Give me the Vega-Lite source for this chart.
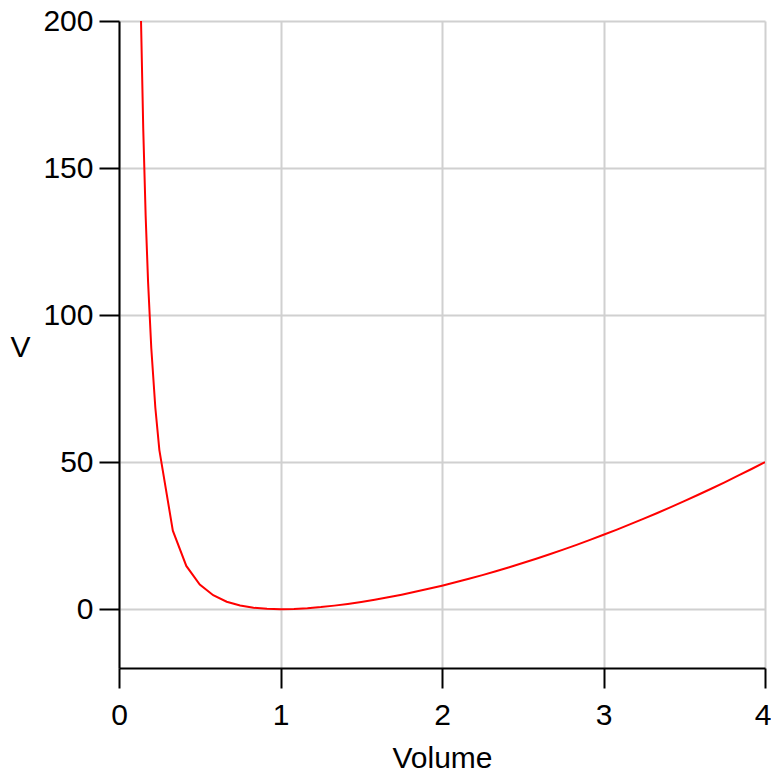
{
  "$schema": "https://vega.github.io/schema/vega-lite/v6.json",
  "width": 646,
  "height": 647,
  "autosize": "none",
  "padding": {"left": 119, "top": 21, "right": 6, "bottom": 108},
  "background": "white",
  "config": {"view": {"stroke": null}, "font": "Liberation Sans"},
  "data": {
    "values": [
      {"volume": 0.135, "V": 203.6},
      {"volume": 0.15, "V": 163.5},
      {"volume": 0.165, "V": 133.8},
      {"volume": 0.18, "V": 111.3},
      {"volume": 0.2, "V": 88.7},
      {"volume": 0.225, "V": 68.5},
      {"volume": 0.25, "V": 54.1},
      {"volume": 0.3333, "V": 26.7},
      {"volume": 0.4167, "V": 14.7},
      {"volume": 0.5, "V": 8.4},
      {"volume": 0.5833, "V": 4.73},
      {"volume": 0.6667, "V": 2.53},
      {"volume": 0.75, "V": 1.23},
      {"volume": 0.8333, "V": 0.48},
      {"volume": 0.9167, "V": 0.11},
      {"volume": 1.0, "V": 0.0},
      {"volume": 1.0833, "V": 0.09},
      {"volume": 1.1667, "V": 0.34},
      {"volume": 1.25, "V": 0.72},
      {"volume": 1.3333, "V": 1.21},
      {"volume": 1.4167, "V": 1.8},
      {"volume": 1.5, "V": 2.47},
      {"volume": 1.5833, "V": 3.22},
      {"volume": 1.6667, "V": 4.05},
      {"volume": 1.75, "V": 4.94},
      {"volume": 1.8333, "V": 5.9},
      {"volume": 1.9167, "V": 6.92},
      {"volume": 2.0, "V": 8.0},
      {"volume": 2.0833, "V": 9.14},
      {"volume": 2.1667, "V": 10.34},
      {"volume": 2.25, "V": 11.59},
      {"volume": 2.3333, "V": 12.9},
      {"volume": 2.4167, "V": 14.27},
      {"volume": 2.5, "V": 15.68},
      {"volume": 2.5833, "V": 17.15},
      {"volume": 2.6667, "V": 18.68},
      {"volume": 2.75, "V": 20.25},
      {"volume": 2.8333, "V": 21.88},
      {"volume": 2.9167, "V": 23.56},
      {"volume": 3.0, "V": 25.29},
      {"volume": 3.0833, "V": 27.07},
      {"volume": 3.1667, "V": 28.9},
      {"volume": 3.25, "V": 30.79},
      {"volume": 3.3333, "V": 32.72},
      {"volume": 3.4167, "V": 34.7},
      {"volume": 3.5, "V": 36.74},
      {"volume": 3.5833, "V": 38.82},
      {"volume": 3.6667, "V": 40.96},
      {"volume": 3.75, "V": 43.15},
      {"volume": 3.8333, "V": 45.38},
      {"volume": 3.9167, "V": 47.67},
      {"volume": 4.0, "V": 50.01}
    ]
  },
  "mark": {"type": "line", "color": "#ff0000", "strokeWidth": 2, "clip": true},
  "encoding": {
    "x": {
      "field": "volume",
      "type": "quantitative",
      "scale": {"domain": [0, 4], "nice": false, "zero": false},
      "axis": {
        "title": "Volume",
        "values": [0, 1, 2, 3, 4],
        "format": "d",
        "tickSize": 20,
        "tickWidth": 2,
        "tickColor": "black",
        "domainColor": "black",
        "domainWidth": 2,
        "gridColor": "#d0d0d0",
        "gridWidth": 2,
        "labelFontSize": 30,
        "labelColor": "black",
        "labelPadding": 12,
        "labelFlush": false,
        "labelAlign": {"condition": {"test": "datum.value == 4", "value": "right"}, "value": "center"},
        "labelOffset": {"condition": {"test": "datum.value == 4", "value": 6}, "value": 0},
        "titleFontSize": 30,
        "titleFontWeight": "normal",
        "titleColor": "black",
        "titlePadding": 13
      }
    },
    "y": {
      "field": "V",
      "type": "quantitative",
      "scale": {"domain": [-20, 200], "nice": false, "zero": false},
      "axis": {
        "title": "V",
        "values": [0, 50, 100, 150, 200],
        "tickSize": 20,
        "tickWidth": 2,
        "tickColor": "black",
        "domainColor": "black",
        "domainWidth": 2,
        "gridColor": "#d0d0d0",
        "gridWidth": 2,
        "labelFontSize": 30,
        "labelColor": "black",
        "labelPadding": 6,
        "labelFlush": false,
        "titleFontSize": 30,
        "titleFontWeight": "normal",
        "titleColor": "black",
        "titleAngle": 0,
        "titleAlign": "center",
        "titleBaseline": "middle",
        "titleX": -99,
        "titleY": 326
      }
    }
  }
}
